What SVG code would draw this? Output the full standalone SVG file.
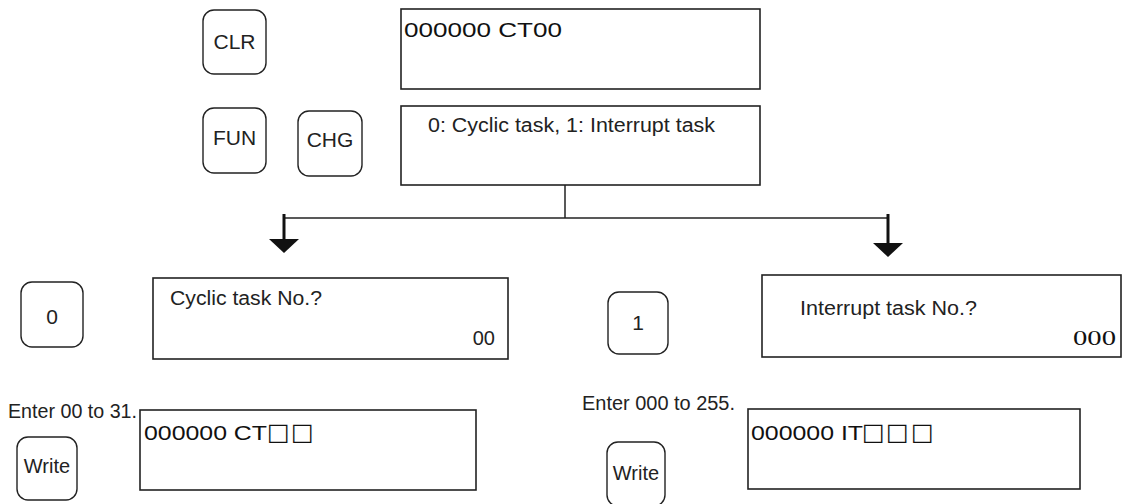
<svg xmlns="http://www.w3.org/2000/svg" width="1125" height="504" viewBox="0 0 1125 504">
<style>
.key{fill:#fff;stroke:#222;stroke-width:1.4}
.disp{fill:#fff;stroke:#222;stroke-width:1.6}
.kt{font-family:"Liberation Sans",Arial,sans-serif;font-size:21px;fill:#222;text-anchor:middle}
.t{font-family:"Liberation Sans",Arial,sans-serif;font-size:20px;fill:#222}
.lcd{font-family:"Liberation Sans",Arial,sans-serif;font-size:21px;fill:#111}
.sq{font-family:"DejaVu Sans",sans-serif;font-size:24px;fill:#111}
.ser{font-family:"Liberation Serif","Times New Roman",serif;font-size:22px;fill:#111}
.ln{fill:none;stroke:#222;stroke-width:1.5}
.sh{fill:none;stroke:#111;stroke-width:3}
</style>
<defs>
<marker id="ah" viewBox="0 0 14 30" refX="0" refY="15" markerWidth="14" markerHeight="30" markerUnits="userSpaceOnUse" orient="auto">
<path d="M0,0 L14,15 L0,30 Z" fill="#111"/>
</marker>
</defs>

<g id="key-clr"><rect class="key" x="203" y="10" width="63" height="64" rx="11"/><text class="kt" x="234.5" y="49">CLR</text></g>
<g id="key-fun"><rect class="key" x="203" y="108" width="63" height="65" rx="11"/><text class="kt" x="234.5" y="145">FUN</text></g>
<g id="key-chg"><rect class="key" x="298" y="111" width="64" height="65" rx="11"/><text class="kt" x="330" y="147">CHG</text></g>

<g id="disp-1"><rect class="disp" x="401" y="9" width="359" height="80"/><text class="lcd" x="404" y="37" textLength="158" lengthAdjust="spacingAndGlyphs">000000 CT00</text></g>
<g id="disp-2"><rect class="disp" x="401" y="106" width="359" height="79"/><text class="t" x="428" y="132" textLength="287" lengthAdjust="spacingAndGlyphs">0: Cyclic task, 1: Interrupt task</text></g>

<g id="connectors">
<path class="ln" d="M565,185 V218"/>
<path class="ln" d="M284,218 H888"/>
<path class="sh" d="M284,214 V239" marker-end="url(#ah)"/>
<path class="sh" d="M888,214 V243" marker-end="url(#ah)"/>
</g>

<g id="key-0"><rect class="key" x="21" y="282" width="62" height="65" rx="11"/><text class="kt" x="52" y="324">0</text></g>
<g id="disp-cyclic"><rect class="disp" x="153" y="278" width="355" height="81"/>
<text class="t" x="170" y="305" textLength="152" lengthAdjust="spacingAndGlyphs">Cyclic task No.?</text>
<text class="t" x="495" y="345" text-anchor="end">00</text></g>

<g id="key-1"><rect class="key" x="608" y="292" width="60" height="62" rx="11"/><text class="kt" x="638" y="330">1</text></g>
<g id="disp-interrupt"><rect class="disp" x="762" y="275" width="359" height="82"/>
<text class="t" x="800" y="315" textLength="177" lengthAdjust="spacingAndGlyphs">Interrupt task No.?</text>
<text class="ser" x="1073" y="345" textLength="43" lengthAdjust="spacingAndGlyphs">000</text></g>

<g id="label-cyclic"><text class="t" x="8" y="418" textLength="129" lengthAdjust="spacingAndGlyphs">Enter 00 to 31.</text></g>
<g id="key-write-1"><rect class="key" x="17" y="437" width="60" height="63" rx="11"/><text class="kt" x="47" y="473" style="font-size:20px">Write</text></g>
<g id="disp-cyclic-final"><rect class="disp" x="140" y="410" width="336" height="80"/>
<text class="lcd" x="144" y="440"><tspan textLength="123" lengthAdjust="spacingAndGlyphs">000000 CT</tspan><tspan class="sq" x="267">□</tspan><tspan class="sq" x="291">□</tspan></text></g>

<g id="label-interrupt"><text class="t" x="582" y="410" textLength="153" lengthAdjust="spacingAndGlyphs">Enter 000 to 255.</text></g>
<g id="key-write-2"><rect class="key" x="607" y="442" width="58" height="64" rx="11"/><text class="kt" x="636" y="480" style="font-size:20px">Write</text></g>
<g id="disp-interrupt-final"><rect class="disp" x="748" y="409" width="332" height="80"/>
<text class="lcd" x="751" y="440"><tspan textLength="112" lengthAdjust="spacingAndGlyphs">000000 IT</tspan><tspan class="sq" x="862">□</tspan><tspan class="sq" x="886">□</tspan><tspan class="sq" x="911">□</tspan></text></g>
</svg>
